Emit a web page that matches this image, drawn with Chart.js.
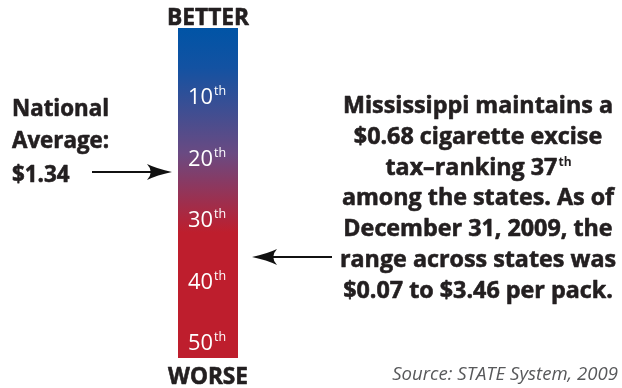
<!DOCTYPE html>
<html><head><meta charset="utf-8">
<script src="https://cdn.jsdelivr.net/npm/chart.js@4"></script>
<style>html,body{margin:0;padding:0;background:#fff}canvas{display:block}</style>
</head><body>
<canvas id="c" width="622" height="388"></canvas>
<script>
// Data
const categories = ['Rank'];
const rankTicks = [10, 20, 30, 40, 50];
const tickSuffix = ['th', 'th', 'th', 'th', 'th'];
const scaleRange = [-1.2, 52.4];
const nationalAvgRank = [22.2];
const mississippiRank = [36];
const leftLines = ['National', 'Average:', '$1.34'];
const rightLines = ['Mississippi maintains a', '$0.68 cigarette excise', 'tax\u2013ranking 37', 'among the states. As of', 'December 31, 2009, the', 'range across states was', '$0.07 to $3.46 per pack.'];
const topLabel = 'BETTER';
const bottomLabel = 'WORSE';
const sourceText = 'Source: STATE System, 2009';

const FONT = '"Open Sans", Lato, sans-serif';

function fitSize(ctx, style, text, width) {
  ctx.font = style + ' 20px ' + FONT;
  return 20 * width / ctx.measureText(text).width;
}
function heavy(ctx, t, x, y) {
  ctx.fillText(t, x, y);
  ctx.strokeText(t, x, y);
}

function arrow(ctx, x1, x2, y, dir) {
  ctx.save();
  ctx.strokeStyle = '#111'; ctx.fillStyle = '#111'; ctx.lineWidth = 2;
  const tip = dir > 0 ? x2 : x1;
  const tail = dir > 0 ? x1 : x2;
  const L = 25, W = 8;
  ctx.beginPath();
  ctx.moveTo(tail, y); ctx.lineTo(tip - dir * (L - 6), y); ctx.stroke();
  ctx.beginPath();
  ctx.moveTo(tip, y);
  ctx.quadraticCurveTo(tip - dir * L * 0.6, y - W * 0.4, tip - dir * L, y - W);
  ctx.quadraticCurveTo(tip - dir * L * 0.7, y, tip - dir * L, y + W);
  ctx.quadraticCurveTo(tip - dir * L * 0.6, y + W * 0.4, tip, y);
  ctx.fill();
  ctx.restore();
}

const overlay = {
  id: 'overlay',
  afterDatasetsDraw(chart) {
    const ctx = chart.ctx;
    const ys = chart.scales.y;
    const ca = chart.chartArea;
    const cx = (ca.left + ca.right) / 2;
    ctx.save();
    // tick labels inside bar
    ctx.fillStyle = '#fff';
    ctx.textBaseline = 'alphabetic';
    const nSize = fitSize(ctx, '', '10', 25);
    rankTicks.forEach((r, i) => {
      const y = ys.getPixelForValue(r) + 7;
      ctx.font = nSize + 'px ' + FONT;
      const num = String(r);
      const w1 = ctx.measureText(num).width;
      const x0 = 188;
      ctx.textAlign = 'left';
      ctx.fillText(num, x0, y);
      ctx.font = '12.5px ' + FONT;
      ctx.fillText(tickSuffix[i], x0 + w1 + 1, y - 9);
    });
    // BETTER / WORSE
    ctx.fillStyle = '#231f20';
    ctx.strokeStyle = '#231f20';
    ctx.lineWidth = 0.6;
    ctx.lineJoin = 'round';
    ctx.textAlign = 'center';
    ctx.font = 'bold ' + fitSize(ctx, 'bold', topLabel, 82) + 'px ' + FONT;
    heavy(ctx, topLabel, cx, 25);
    ctx.font = 'bold ' + fitSize(ctx, 'bold', bottomLabel, 80) + 'px ' + FONT;
    heavy(ctx, bottomLabel, cx, 384);
    // left text
    ctx.textAlign = 'left';
    ctx.font = 'bold ' + fitSize(ctx, 'bold', leftLines[0], 97) + 'px ' + FONT;
    const ly = [116, 148, 182];
    leftLines.forEach((t, i) => heavy(ctx, t, 12, ly[i]));
    // right text
    const rcx = 478;
    const ry0 = 113, rdy = 30.8;
    const rSize = fitSize(ctx, 'bold', rightLines[0], 270);
    rightLines.forEach((t, i) => {
      const y = ry0 + i * rdy;
      ctx.font = 'bold ' + rSize + 'px ' + FONT;
      ctx.textAlign = 'center';
      if (i === 2) {
        const w = ctx.measureText(t).width;
        ctx.font = 'bold 12px ' + FONT;
        const ws = ctx.measureText('th').width;
        const x0 = rcx - (w + ws) / 2;
        ctx.textAlign = 'left';
        ctx.font = 'bold ' + rSize + 'px ' + FONT;
        heavy(ctx, t, x0, y);
        ctx.font = 'bold 12px ' + FONT;
        ctx.fillText('th', x0 + w + 1, y - 9);
      } else {
        heavy(ctx, t, rcx, y);
      }
    });
    // source
    ctx.fillStyle = '#58595b';
    ctx.textAlign = 'right';
    ctx.font = 'italic ' + fitSize(ctx, 'italic', sourceText, 226) + 'px ' + FONT;
    ctx.fillText(sourceText, 618, 380);
    // arrows
    arrow(ctx, 92, ca.left - 6, ys.getPixelForValue(nationalAvgRank[0]), 1);
    arrow(ctx, ca.right + 14, 332, ys.getPixelForValue(mississippiRank[0]), -1);
    ctx.restore();
  }
};

new Chart(document.getElementById('c'), {
  type: 'bar',
  data: {
    labels: categories,
    datasets: [{
      data: [scaleRange],
      barPercentage: 1, categoryPercentage: 1,
      borderWidth: 0,
      backgroundColor(context) {
        const ca = context.chart.chartArea;
        if (!ca) return '#BE1E2D';
        const g = context.chart.ctx.createLinearGradient(0, ca.top, 0, ca.bottom);
        g.addColorStop(0, '#0054A6');
        g.addColorStop(0.12, '#1352A2');
        g.addColorStop(0.38, '#6A4A82');
        g.addColorStop(0.62, '#BE1E2D');
        g.addColorStop(1, '#BE1E2D');
        return g;
      }
    }]
  },
  options: {
    responsive: false,
    animation: false,
    layout: { padding: { left: 178, right: 384, top: 28, bottom: 30 } },
    plugins: { legend: { display: false }, tooltip: { enabled: false } },
    scales: {
      x: { display: false },
      y: { display: false, reverse: true, min: scaleRange[0], max: scaleRange[1] }
    }
  },
  plugins: [overlay]
});
</script>
</body></html>
